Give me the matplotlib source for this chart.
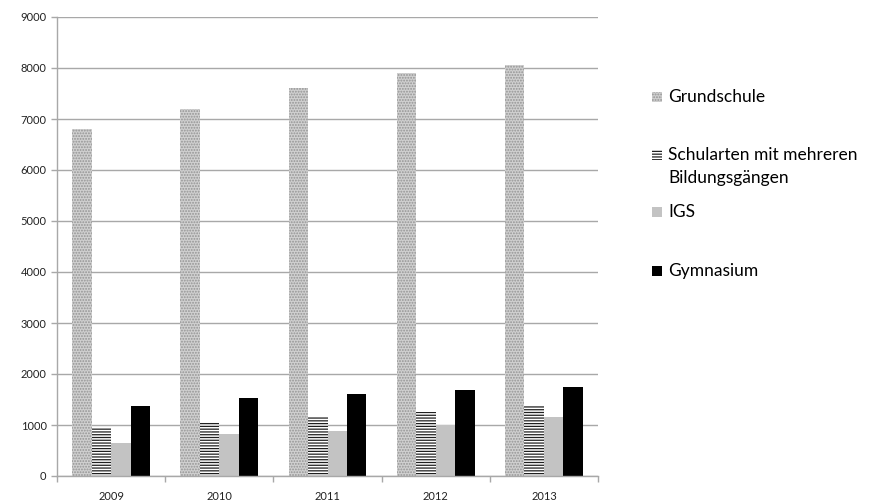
import numpy as np
import matplotlib.pyplot as plt
import matplotlib.patches as mpatches

plt.rcParams['font.family'] = ['Lato', 'DejaVu Sans']
plt.rcParams['hatch.linewidth'] = 0.9

years = ["2009", "2010", "2011", "2012", "2013"]
grundschule = [6800, 7200, 7600, 7900, 8050]
schularten = [940, 1050, 1150, 1250, 1370]
igs = [650, 820, 880, 1000, 1150]
gymnasium = [1380, 1520, 1600, 1690, 1750]

series = ["Grundschule", "Schularten mit mehreren\nBildungsgängen", "IGS", "Gymnasium"]

# face, hatch, hatch colour per series
styles = [
    ("#d0d0d0", "......", "#949494"),
    ("white", "------", "#202020"),
    ("#c3c3c3", None, "#c3c3c3"),
    ("black", None, "black"),
]

fig = plt.figure(figsize=(8.96, 5.04), dpi=100)
ax = fig.add_axes([57 / 896, 1 - 476 / 504, (598 - 57) / 896, (476 - 17) / 504])

x = np.arange(len(years))
width = 0.18
values = [grundschule, schularten, igs, gymnasium]
for i, (vals, (fc, hatch, hc)) in enumerate(zip(values, styles)):
    ax.bar(x + (i - 1.5) * width, vals, width, color=fc, hatch=hatch,
           edgecolor=hc, linewidth=0, zorder=2)

ax.set_ylim(0, 9000)
ax.set_xlim(-0.5, len(years) - 0.5)
ax.set_yticks(range(0, 9001, 1000))
ax.yaxis.grid(True, color="#a8a8a8", linewidth=1.0, zorder=0)
ax.set_axisbelow(True)

ax.set_xticks(x)
ax.set_xticklabels(years)
ax.set_xticks(np.arange(-0.5, len(years)), minor=True)
ax.tick_params(axis="x", which="major", length=0, pad=11, labelsize=8, labelcolor="#222222")
ax.tick_params(axis="x", which="minor", length=4, color="#a8a8a8", width=1)
ax.tick_params(axis="y", length=4, color="#a8a8a8", width=1, labelsize=8, labelcolor="#222222")

for side in ("top", "right"):
    ax.spines[side].set_visible(False)
for side in ("left", "bottom"):
    ax.spines[side].set_color("#a8a8a8")
    ax.spines[side].set_linewidth(1.0)

# legend on the right, drawn by hand; y is the centre of the first text line
legend_y = [97, 155, 212, 271]
for label, ly, (fc, hatch, hc) in zip(series, legend_y, styles):
    rect = mpatches.Rectangle((652 / 896, 1 - (ly + 5) / 504), 10 / 896, 10 / 504,
                              transform=fig.transFigure, facecolor=fc, hatch=hatch,
                              edgecolor=hc, linewidth=0)
    fig.patches.append(rect)
    if "\n" in label:
        fig.text(668 / 896, 1 - (ly - 8) / 504, label, fontsize=12.5, color="black",
                 va="top", linespacing=1.55)
    else:
        fig.text(668 / 896, 1 - ly / 504, label, fontsize=12.5, color="black",
                 va="center")

fig.savefig("out.png", dpi=100)
